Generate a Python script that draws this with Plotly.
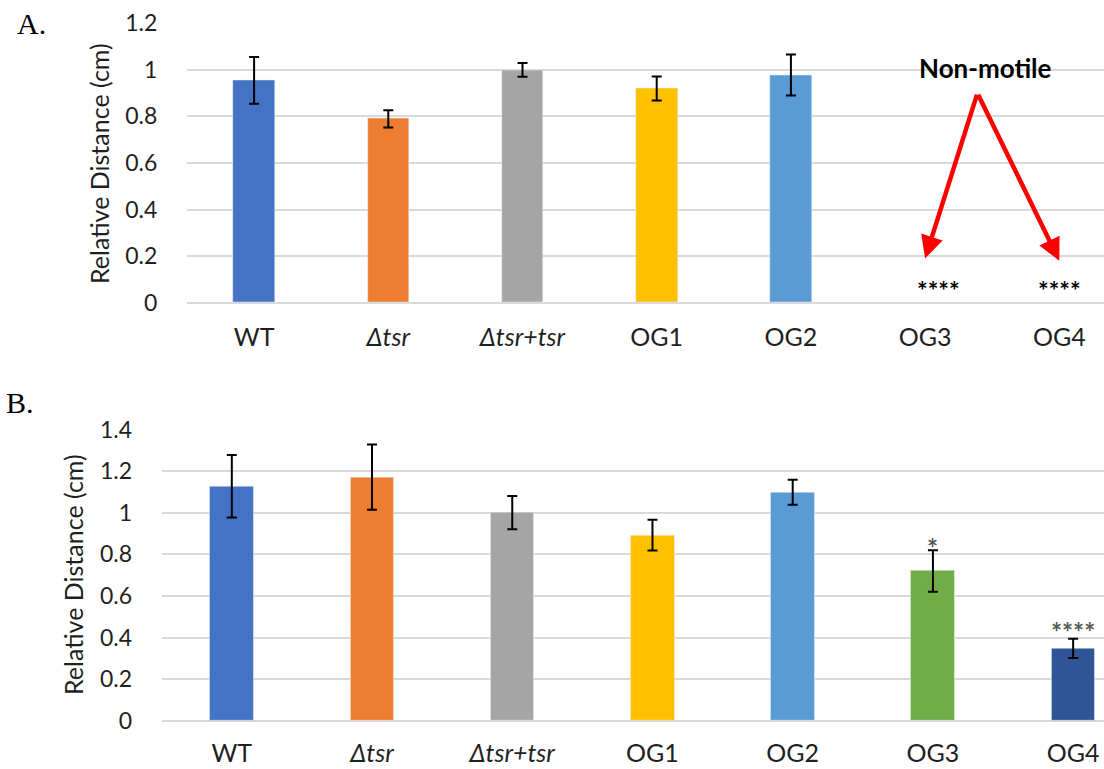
import plotly.graph_objects as go

categories = ["WT", "Δtsr", "Δtsr+tsr", "OG1", "OG2", "OG3", "OG4"]
tick_labels = ["WT", "<i>Δtsr</i>", "<i>Δtsr+tsr</i>", "OG1", "OG2", "OG3", "OG4"]
colors = ["#4472C4", "#ED7D31", "#A5A5A5", "#FFC000", "#5B9BD5", "#70AD47", "#2F5597"]

# Panel A (OG3, OG4 non-motile: no bar)
a_values = [0.955, 0.79, 1.0, 0.92, 0.978, None, None]
a_errors = [0.10, 0.037, 0.03, 0.052, 0.088, None, None]

# Panel B
b_values = [1.127, 1.171, 1.0, 0.892, 1.098, 0.72, 0.348]
b_errors = [0.15, 0.157, 0.08, 0.074, 0.06, 0.10, 0.046]

W, H = 1104, 769
FONT = "Lato"
TICKC = "#1f1f1f"
GRID = "#D9D9D9"

fig = go.Figure()
fig.add_trace(go.Bar(
    x=categories, y=a_values, marker_color=colors, width=0.31,
    error_y=dict(type="data", array=a_errors, visible=True, color="black", thickness=2, width=5),
    xaxis="x", yaxis="y", showlegend=False))
fig.add_trace(go.Bar(
    x=categories, y=b_values, marker_color=colors, width=0.31,
    error_y=dict(type="data", array=b_errors, visible=True, color="black", thickness=2, width=5),
    xaxis="x2", yaxis="y2", showlegend=False))

def py(px):
    return 1 - px / H

common_x = dict(type="category", categoryorder="array", categoryarray=categories,
                tickvals=categories, ticktext=tick_labels, showgrid=False, zeroline=False,
                showline=False, ticks="outside", tickcolor="rgba(0,0,0,0)", automargin=False,
                tickfont=dict(family=FONT, size=25, color=TICKC))
common_y = dict(showgrid=True, gridcolor=GRID, gridwidth=1.5, zeroline=True,
                zerolinecolor=GRID, zerolinewidth=1.5, showline=False, automargin=False,
                ticks="outside", tickcolor="rgba(0,0,0,0)", ticklen=24,
                tickfont=dict(family=FONT, size=23, color=TICKC))

fig.update_layout(
    width=W, height=H, margin=dict(l=0, r=0, t=0, b=0, autoexpand=False),
    paper_bgcolor="white", plot_bgcolor="white", bargap=0,
    xaxis=dict(common_x, domain=[187 / W, 1], range=[-0.5, 6.333], anchor="y", ticklen=12),
    yaxis=dict(common_y, domain=[py(302.7), py(23.3)], range=[0, 1.2], anchor="x",
               tickvals=[0, 0.2, 0.4, 0.6, 0.8, 1.0, 1.2],
               ticktext=["0", "0.2", "0.4", "0.6", "0.8", "1", "1.2"]),
    xaxis2=dict(common_x, domain=[161.7 / W, 1], range=[-0.5, 6.22], anchor="y2", ticklen=10),
    yaxis2=dict(common_y, domain=[py(720.7), py(429.5)], range=[0, 1.4], anchor="x2",
                tickvals=[0, 0.2, 0.4, 0.6, 0.8, 1.0, 1.2, 1.4],
                ticktext=["0", "0.2", "0.4", "0.6", "0.8", "1", "1.2", "1.4"]),
)

ann = []
# y-axis titles
for xc, yc in [(99, 164), (73, 575)]:
    ann.append(dict(text="Relative Distance (cm)", x=xc / W, y=py(yc), xref="paper", yref="paper",
                    xanchor="center", yanchor="middle", textangle=-90, showarrow=False,
                    font=dict(family=FONT, size=25, color=TICKC)))
# panel letters
ann.append(dict(text="A.", x=31 / W, y=py(23), xref="paper", yref="paper", showarrow=False,
                xanchor="center", yanchor="middle",
                font=dict(family="Liberation Serif", size=30, color="black")))
ann.append(dict(text="B.", x=20 / W, y=py(402), xref="paper", yref="paper", showarrow=False,
                xanchor="center", yanchor="middle",
                font=dict(family="Liberation Serif", size=30, color="black")))
# Non-motile label and arrows
ann.append(dict(text="<b>Non-motile</b>", x=5.45, y=1.01, xref="x", yref="y", showarrow=False,
                xanchor="center", yanchor="middle",
                font=dict(family=FONT, size=26, color="black")))
for tx, ty in [("OG3", 0.19), ("OG4", 0.18)]:
    xi = categories.index(tx)
    ann.append(dict(text="", x=xi, y=ty, xref="x", yref="y", ax=5.39, ay=0.90,
                    axref="x", ayref="y", showarrow=True, arrowhead=2, arrowsize=1.0,
                    arrowwidth=4.5, arrowcolor="#FF0000"))
# significance stars
ann.append(dict(text="<b>****</b>", x=5.1, y=0.055, xref="x", yref="y", showarrow=False,
                xanchor="center", yanchor="middle",
                font=dict(family=FONT, size=25, color="black")))
ann.append(dict(text="<b>****</b>", x=6.0, y=0.055, xref="x", yref="y", showarrow=False,
                xanchor="center", yanchor="middle",
                font=dict(family=FONT, size=25, color="black")))
ann.append(dict(text="<b>*</b>", x=5, y=0.83, xref="x2", yref="y2", showarrow=False,
                xanchor="center", yanchor="middle",
                font=dict(family=FONT, size=26, color="#595959")))
ann.append(dict(text="<b>****</b>", x=6, y=0.425, xref="x2", yref="y2", showarrow=False,
                xanchor="center", yanchor="middle",
                font=dict(family=FONT, size=26, color="#595959")))
fig.update_layout(annotations=ann)

fig.write_html("out.html", config={"displayModeBar": False},
               post_script="document.body.style.margin='0';")
